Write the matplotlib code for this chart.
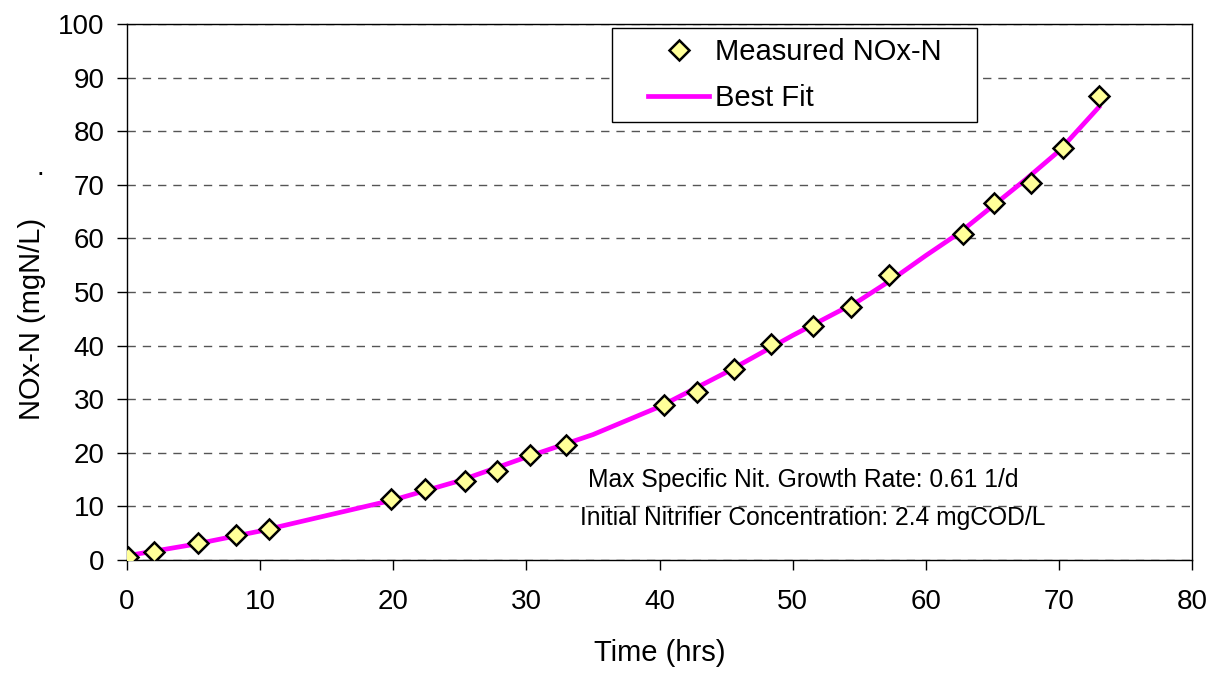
import matplotlib.pyplot as plt
from matplotlib.patches import Rectangle

plt.rcParams['font.family'] = ['Liberation Sans', 'DejaVu Sans']

# measured points
time_hrs = [0.1, 2.05, 5.3, 8.2, 10.7, 19.8, 22.4, 25.4, 27.8, 30.3, 33.0,
            40.3, 42.8, 45.6, 48.4, 51.5, 54.4, 57.2, 62.8, 65.1, 67.9, 70.3, 73.0]
nox_n = [0.6, 1.55, 3.2, 4.6, 5.8, 11.4, 13.2, 14.7, 16.6, 19.6, 21.5,
         28.9, 31.3, 35.6, 40.3, 43.7, 47.2, 53.2, 60.9, 66.7, 70.4, 76.8, 86.6]

# best fit curve
fit_t = [0, 5, 10, 15, 20, 25, 30, 35, 40, 45, 50, 55, 57.5, 60, 62.5, 65, 67.5, 70, 73]
fit_y = [0.8, 2.9, 5.4, 8.3, 11.2, 14.8, 19.2, 23.4, 28.6, 35.0, 41.9, 48.4,
         52.4, 56.8, 61.0, 66.0, 71.0, 76.3, 84.5]

fig = plt.figure(figsize=(12.09, 6.77), dpi=100)
ax = fig.add_axes([0.105, 0.1728, 0.881, 0.7917])

ax.plot(fit_t, fit_y, color='#FF00FF', lw=3.4, label='Best Fit', zorder=3)
ax.plot(time_hrs, nox_n, ls='none', marker='D', markersize=10.5,
        markerfacecolor='#FFFF99', markeredgecolor='black', markeredgewidth=1.8,
        label='Measured NOx-N', zorder=4)

ax.set_xlim(0, 80)
ax.set_ylim(0, 100)
ax.set_xticks(range(0, 81, 10))
ax.set_yticks(range(0, 101, 10))
ax.tick_params(labelsize=20, direction='out', length=7, width=1)
ax.tick_params(axis='y', pad=9)
ax.tick_params(axis='x', pad=14)
ax.yaxis.grid(True, ls=(0, (6, 5)), color='#555555', lw=1)
ax.set_axisbelow(True)
for s in ax.spines.values():
    s.set_color('black')
    s.set_linewidth(1)

ax.set_xlabel('Time (hrs)', fontsize=21)
ax.xaxis.set_label_coords(0.5, -0.148)
ax.set_ylabel('NOx-N (mgN/L)', fontsize=21)
ax.yaxis.set_label_coords(-0.076, 0.45)
fig.text(0.030, 0.742, '.', fontsize=20)

ax.text(34.6, 14.9, 'Max Specific Nit. Growth Rate: 0.61 1/d', fontsize=17.7, va='center')
ax.text(34.0, 7.8, 'Initial Nitrifier Concentration: 2.4 mgCOD/L', fontsize=17.7, va='center')

handles, labels = ax.get_legend_handles_labels()
leg = ax.legend(handles[::-1], labels[::-1], loc='center left',
                bbox_to_anchor=(648 / 1209, 1 - 75 / 677), bbox_transform=fig.transFigure,
                fontsize=21, frameon=False, handlelength=2.1, handletextpad=0.2,
                borderpad=0, labelspacing=0.6, borderaxespad=0)
leg.set_zorder(6)
ax.add_patch(Rectangle((612 / 1209, 1 - 122 / 677), 365 / 1209, 94 / 677,
                       transform=fig.transFigure, facecolor='white',
                       edgecolor='black', lw=1, zorder=5, clip_on=False))

fig.savefig('out.png', dpi=100)
